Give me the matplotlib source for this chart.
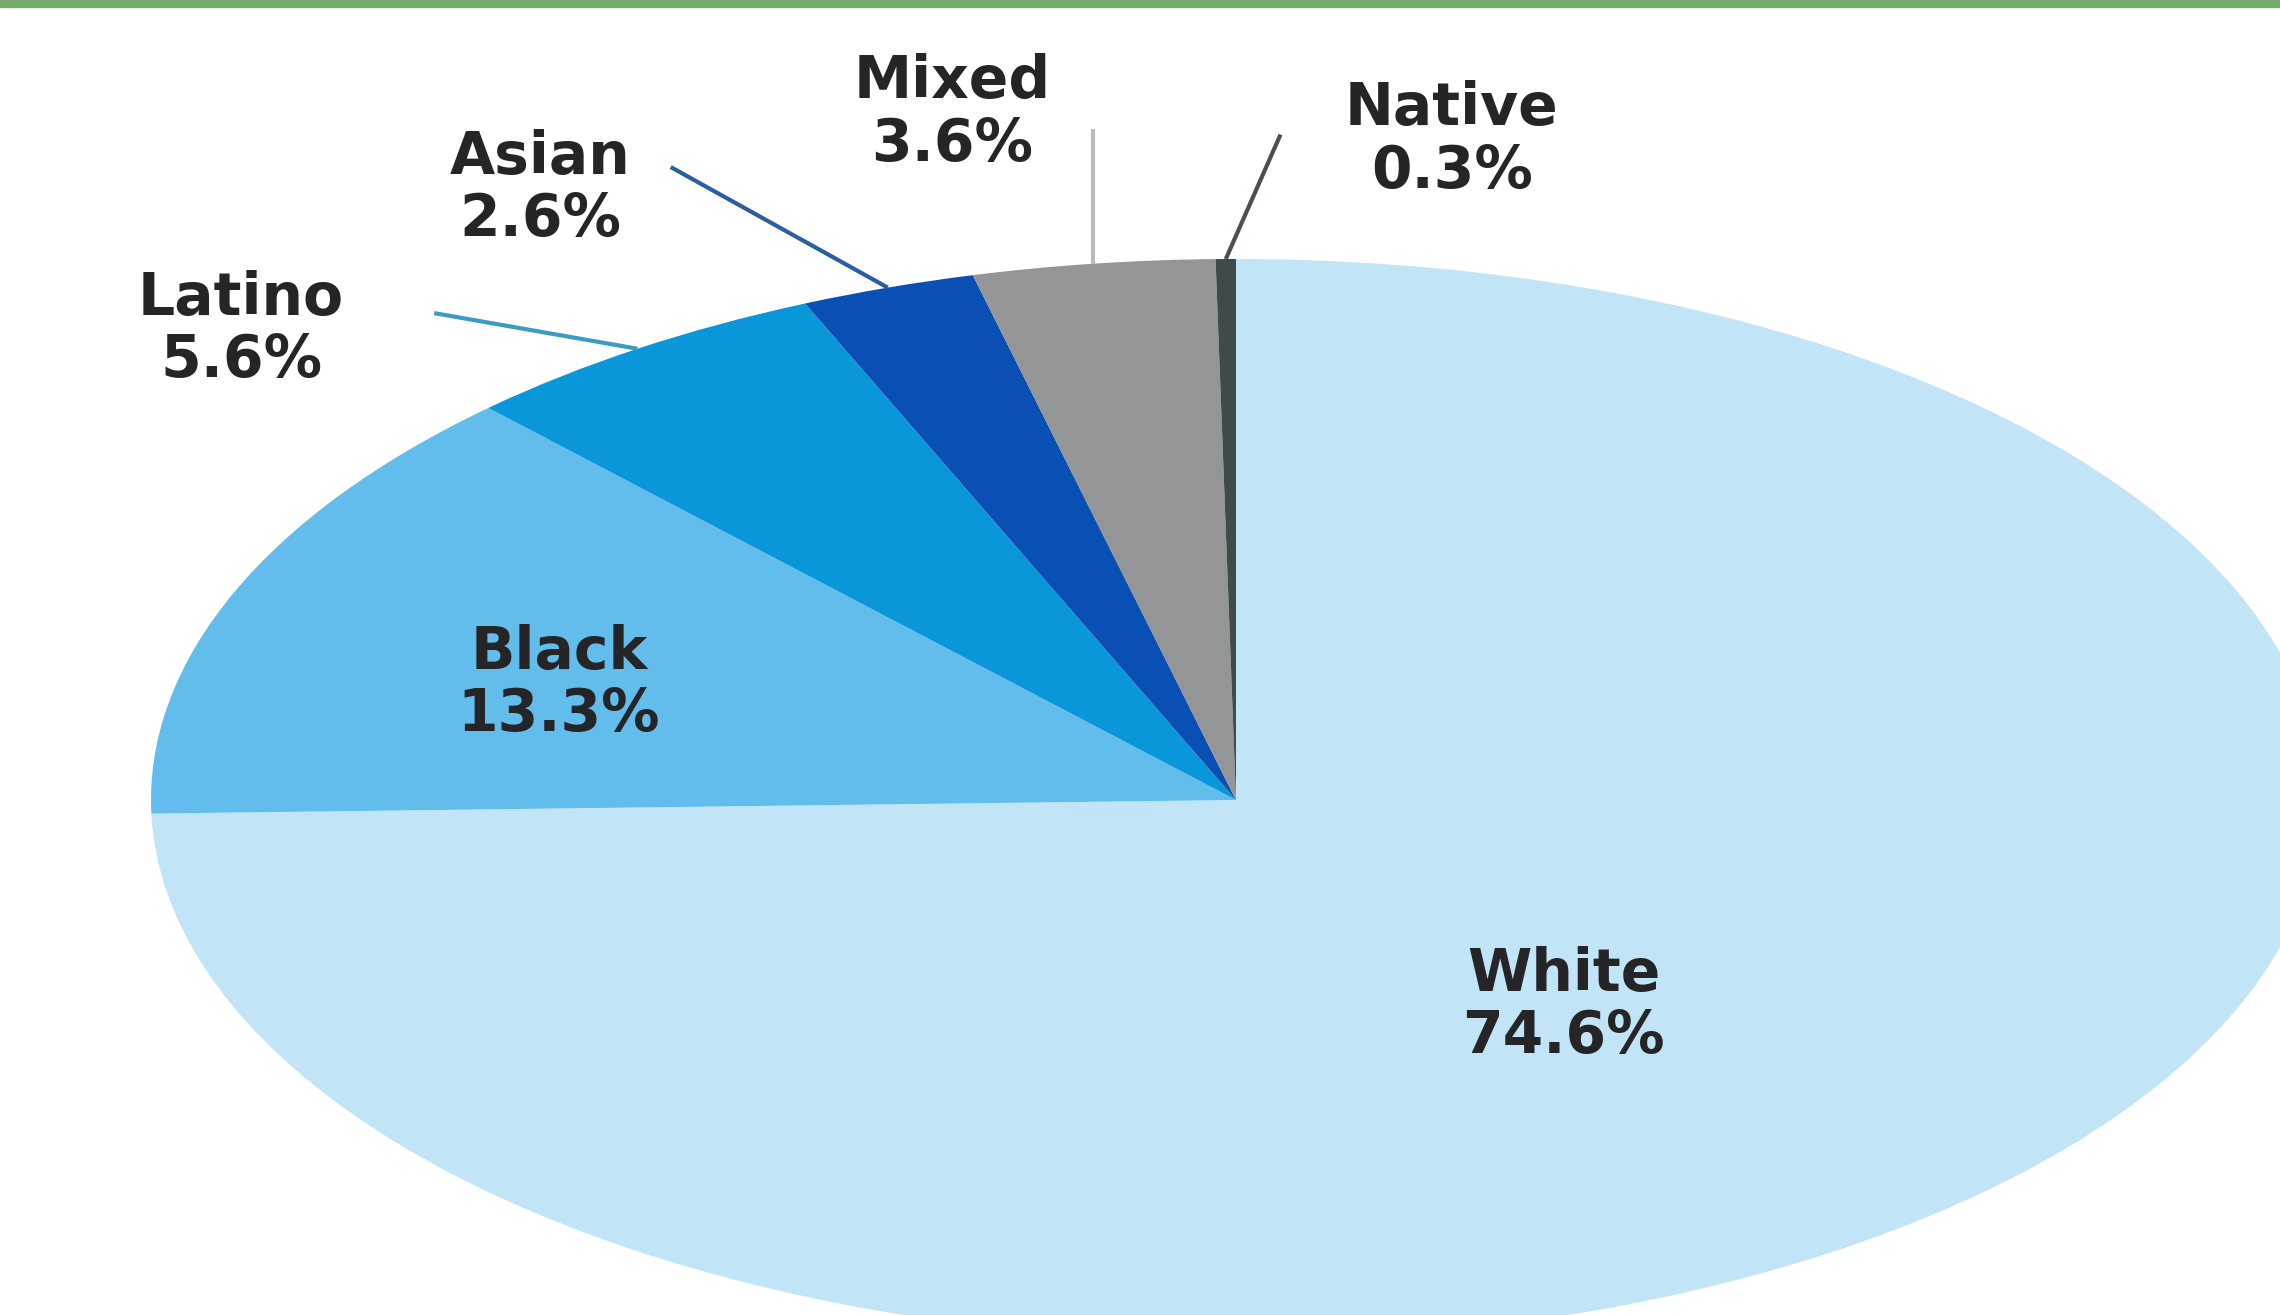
import numpy as np
import matplotlib
matplotlib.use('Agg')
import matplotlib.pyplot as plt
from matplotlib.patches import Rectangle

# data
groups = ['White', 'Black', 'Latino', 'Asian', 'Mixed', 'Native']
shares = [74.6, 13.3, 5.6, 2.6, 3.6, 0.3]
colors = ['#c1e5f7', '#62bcec', '#0a97da', '#0a4fb4', '#939597', '#3f4b4b']

# label layout (data coords, pie radius = 1)
label_pos = {
    'White': (0.302, -0.38),
    'Black': (-0.624, 0.215),
    'Latino': (-0.917, 0.87),
    'Asian': (-0.641, 1.13),
    'Mixed': (-0.262, 1.27),
    'Native': (0.199, 1.22),
}
# leader lines: outer end point + colour
leaders = {
    'Latino': ((-0.739, 0.90), '#3a9cc4'),
    'Asian': ((-0.521, 1.17), '#2a5fa0'),
    'Mixed': ((None, 1.24), '#b8babc'),
    'Native': ((0.041, 1.23), '#4a4f52'),
}

W, H, DPI = 2280, 1315, 100
fig = plt.figure(figsize=(W / DPI, H / DPI), dpi=DPI)
ax = fig.add_axes([0, 0, 1, 1])

wedges, _ = ax.pie(shares, colors=colors, startangle=90, counterclock=False,
                   radius=1, wedgeprops=dict(linewidth=0))
ax.set_aspect('auto')

# pixel geometry of the stretched pie
cx, cy, rx, ry = 1236, 800, 1085, 541
ax.set_xlim(-cx / rx, (W - cx) / rx)
ax.set_ylim(-(H - cy) / ry, cy / ry)
ax.axis('off')

txt_kw = dict(ha='center', va='center', fontsize=42, fontweight='bold',
              color='#252528', family='DejaVu Sans', linespacing=1.12)
for g, s in zip(groups, shares):
    x, y = label_pos[g]
    ax.text(x, y, f'{g}\n{s}%', **txt_kw)

# leader lines from wedge middle
for w, g in zip(wedges, groups):
    if g not in leaders:
        continue
    ang = np.deg2rad((w.theta1 + w.theta2) / 2)
    x0, y0 = np.cos(ang), np.sin(ang)
    (x1, y1), col = leaders[g]
    if x1 is None:
        x1 = x0
    ax.plot([x0, x1], [y0, y1], color=col, lw=3, solid_capstyle='butt')

# green strip on top
fig.patches.append(Rectangle((0, 1 - 7 / H), 1, 7 / H, transform=fig.transFigure,
                             color='#77aa6e', zorder=5))

fig.savefig('out.png', dpi=DPI)
